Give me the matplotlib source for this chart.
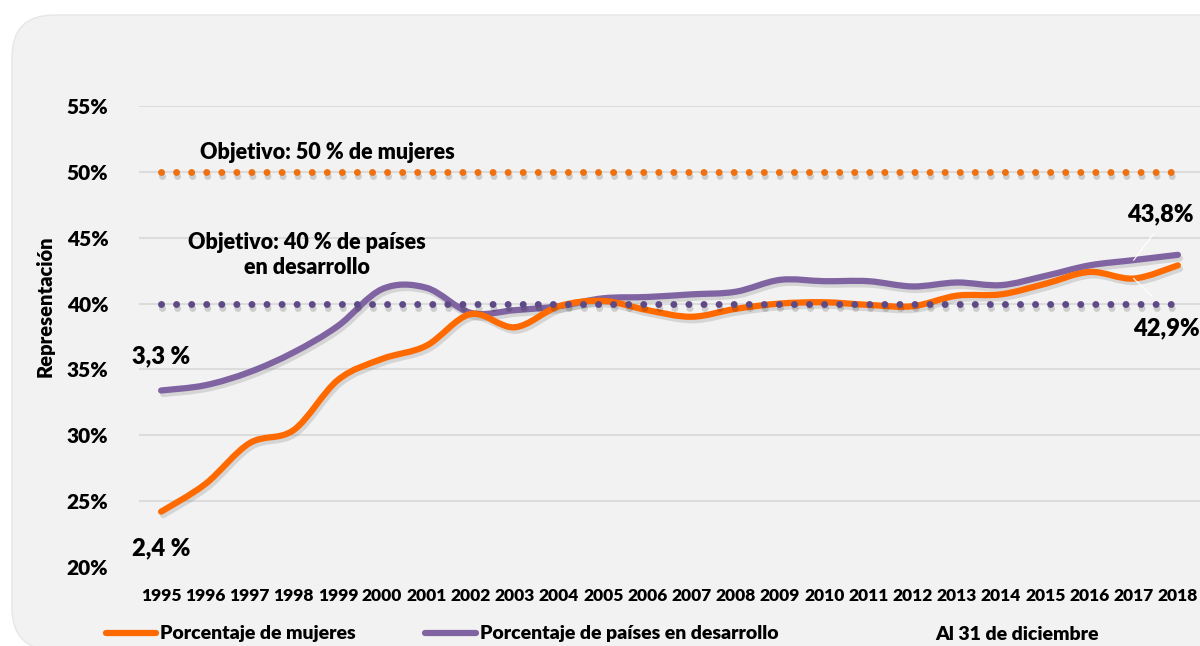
"""Representación de mujeres y de países en desarrollo, 1995-2018."""

import matplotlib

matplotlib.use("Agg")
import matplotlib.pyplot as plt
import matplotlib.patheffects as pe
from matplotlib.lines import Line2D
from matplotlib.patches import FancyBboxPatch, PathPatch
from matplotlib.path import Path

years = list(range(1995, 2019))
women_pct = [24.2, 26.3, 29.4, 30.4, 34.2, 35.8, 36.8, 39.2, 38.2, 39.8, 40.2, 39.5,
             39.0, 39.6, 40.0, 40.1, 39.9, 39.8, 40.6, 40.7, 41.5, 42.4, 41.9, 42.9]
developing_pct = [33.4, 33.8, 34.8, 36.3, 38.3, 41.1, 41.2, 39.3, 39.5, 39.8, 40.4, 40.5,
                  40.7, 40.9, 41.8, 41.7, 41.7, 41.3, 41.6, 41.4, 42.1, 42.9, 43.3, 43.7]
target_women = 50
target_developing = 40
y_ticks = [20, 25, 30, 35, 40, 45, 50, 55]

ORANGE = "#ff6a00"
PURPLE = "#8064a2"
ORANGE_DOT = "#ee7010"
PURPLE_DOT = "#5e4a86"
FONT = "Lato"
WEIGHT = "heavy"

W, H = 1200, 646


def smooth_path(xs, ys):
    # Catmull-Rom through the points, written as cubic Bezier segments
    pts = list(zip(xs, ys))
    verts = [pts[0]]
    codes = [Path.MOVETO]
    n = len(pts)
    for i in range(n - 1):
        p0 = pts[i - 1] if i > 0 else pts[i]
        p1 = pts[i]
        p2 = pts[i + 1]
        p3 = pts[i + 2] if i + 2 < n else pts[i + 1]
        c1 = (p1[0] + (p2[0] - p0[0]) / 6, p1[1] + (p2[1] - p0[1]) / 6)
        c2 = (p2[0] - (p3[0] - p1[0]) / 6, p2[1] - (p3[1] - p1[1]) / 6)
        verts += [c1, c2, p2]
        codes += [Path.CURVE4] * 3
    return Path(verts, codes)


def fx(px):
    return px / W


def fy(py):
    return 1 - py / H


fig = plt.figure(figsize=(12, 6.46), dpi=100)
fig.patch.set_facecolor("white")

bg = FancyBboxPatch((fx(12), fy(650)), fx(1230), fy(15) - fy(650),
                    boxstyle="round,pad=0,rounding_size=0.035",
                    transform=fig.transFigure, facecolor="#f2f2f2",
                    edgecolor="#e6e6e6", lw=1, zorder=0, mutation_aspect=W / H)
fig.add_artist(bg)

ax = fig.add_axes([fx(139), fy(567), 1 - fx(139), fy(106) - fy(567)])
ax.set_facecolor("none")
ax.set_xlim(1994.5, 2018.5)
ax.set_ylim(20, 55)
for s in ax.spines.values():
    s.set_visible(False)

for t in y_ticks[1:]:
    ax.axhline(t, color="#dcdcdc", lw=1.5, zorder=1)

shadow = [pe.SimpleLineShadow(offset=(1.5, -2.5), shadow_color="#7f7f7f", alpha=0.25),
          pe.Normal()]

for vals, col in [(developing_pct, PURPLE), (women_pct, ORANGE)]:
    patch = PathPatch(smooth_path(years, vals), facecolor="none", edgecolor=col,
                      lw=4.5, capstyle="round", joinstyle="round", zorder=3,
                      path_effects=shadow)
    ax.add_patch(patch)

# target lines as round dots, drawn over the curves
dot_style = dict(lw=5, linestyle=(0, (0.01, 2.16)), dash_capstyle="round",
                 zorder=4, path_effects=[pe.SimpleLineShadow(offset=(1, -3), alpha=0.15),
                                         pe.Normal()])
ax.plot([years[0], years[-1]], [target_women] * 2, color=ORANGE_DOT, **dot_style)
ax.plot([years[0], years[-1]], [target_developing] * 2, color=PURPLE_DOT, **dot_style)

ax.set_yticks(y_ticks)
ax.set_yticklabels([f"{t}%" for t in y_ticks])
ax.set_xticks(years)
ax.set_xticklabels([str(y) for y in years])
ax.tick_params(axis="both", length=0)
ax.tick_params(axis="y", pad=22)
ax.tick_params(axis="x", pad=15)
for lab in ax.get_yticklabels():
    lab.set_fontfamily(FONT)
    lab.set_fontweight(WEIGHT)
    lab.set_fontsize(15)
for lab in ax.get_xticklabels():
    lab.set_fontfamily(FONT)
    lab.set_fontweight(WEIGHT)
    lab.set_fontsize(12.5)

txt = dict(fontfamily=FONT, fontweight=WEIGHT, color="black")
ax.text(1998.75, 51.5, "Objetivo: 50 % de mujeres", ha="center", va="center",
        fontsize=15.5, zorder=5, **txt)
ax.text(1998.3, 43.7, "Objetivo: 40 % de países\nen desarrollo", ha="center", va="center",
        fontsize=15.5, linespacing=1.25, zorder=5, **txt)
ax.text(1995, 36.0, "3,3 %", ha="center", va="center", fontsize=17, **txt)
ax.text(1995, 21.4, "2,4 %", ha="center", va="center", fontsize=17, **txt)
ax.text(2017.6, 46.8, "43,8%", ha="center", va="center", fontsize=17, **txt)
ax.text(2017.75, 38.1, "42,9%", ha="center", va="center", fontsize=17, **txt)

# faint leader lines from the end labels
ax.plot([2017.45, 2017.0], [45.3, 43.3], color="white", lw=0.8, zorder=5)
ax.plot([2017.4, 2017.0], [40.6, 41.9], color="white", lw=0.8, zorder=5)

fig.text(fx(45), fy(306), "Representación", rotation=90, ha="center", va="center",
         fontsize=14.5, **txt)

# legend row
fig.add_artist(Line2D([fx(106), fx(156)], [fy(633)] * 2, color=ORANGE, lw=4.5,
                      solid_capstyle="round", transform=fig.transFigure))
fig.text(fx(160), fy(633), "Porcentaje de mujeres", ha="left", va="center",
         fontsize=14, **txt)
fig.add_artist(Line2D([fx(425), fx(476)], [fy(633)] * 2, color=PURPLE, lw=4.5,
                      solid_capstyle="round", transform=fig.transFigure))
fig.text(fx(480), fy(633), "Porcentaje de países en desarrollo", ha="left", va="center",
         fontsize=14, **txt)
fig.text(fx(1017), fy(635), "Al 31 de diciembre", ha="center", va="center",
         fontsize=14, **txt)

fig.savefig("out.png", dpi=100, facecolor=fig.get_facecolor())
